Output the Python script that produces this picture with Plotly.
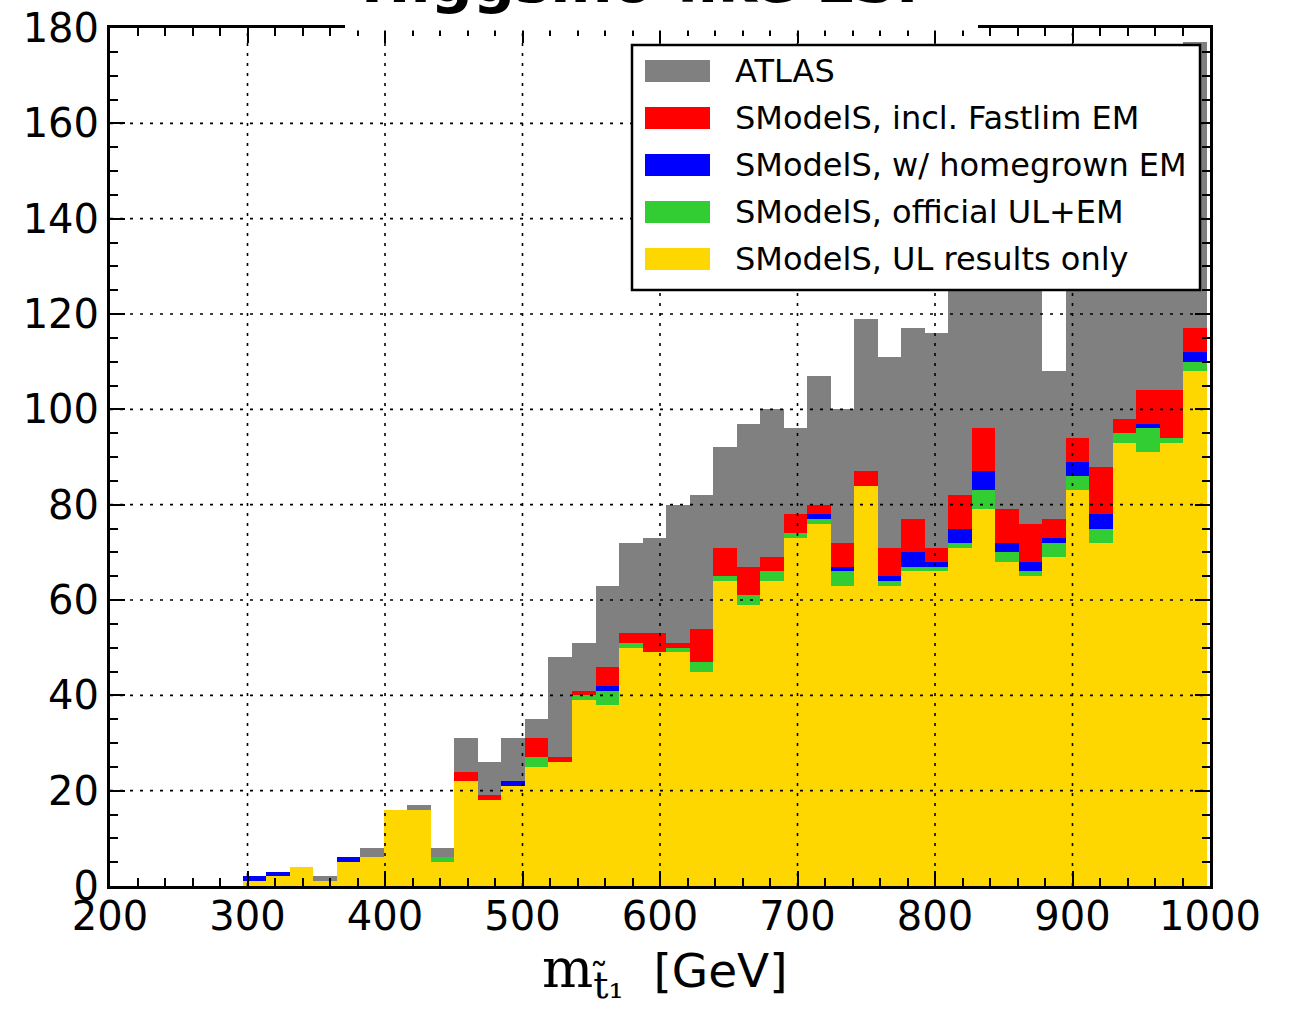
import numpy as np
import plotly.graph_objects as go

# Stop-mass bins (GeV): first lower edge and common bin width
bin_start = 296.6
bin_width = 17.1
n_bins = 41
bin_centers = bin_start + bin_width * (np.arange(n_bins) + 0.5)

# Number of excluded points per bin
atlas = [0, 0, 3, 2, 5, 8, 16, 17, 8, 31,
         26, 31, 35, 48, 51, 63, 72, 73, 80, 82,
         92, 97, 100, 96, 107, 100, 119, 111, 117, 116,
         128, 134, 130, 138, 108, 142, 150, 155, 160, 168,
         177]
fastlim_em = [2, 3, 4, 1, 6, 6, 16, 16, 6, 24,
              19, 22, 31, 27, 41, 46, 53, 53, 51, 54,
              71, 67, 69, 78, 80, 72, 87, 71, 77, 71,
              82, 96, 79, 76, 77, 94, 88, 98, 104, 104,
              117]
homegrown_em = [2, 3, 4, 1, 6, 6, 16, 16, 6, 22,
                18, 22, 27, 26, 40, 42, 51, 49, 50, 47,
                65, 61, 66, 74, 78, 67, 84, 65, 70, 68,
                75, 87, 72, 68, 73, 89, 78, 95, 97, 94,
                112]
official_ul_em = [1, 2, 4, 1, 5, 6, 16, 16, 6, 22,
                  18, 21, 27, 26, 40, 41, 51, 49, 50, 47,
                  65, 61, 66, 74, 77, 66, 84, 64, 67, 67,
                  72, 83, 70, 66, 72, 86, 75, 95, 96, 94,
                  110]
ul_only = [1, 2, 4, 1, 5, 6, 16, 16, 5, 22,
           18, 21, 25, 26, 39, 38, 50, 49, 49, 45,
           64, 59, 64, 73, 76, 63, 84, 63, 66, 66,
           71, 79, 68, 65, 69, 83, 72, 93, 91, 93,
           108]

series_names = ["ATLAS",
                "SModelS, incl. Fastlim EM",
                "SModelS, w/ homegrown EM",
                "SModelS, official UL+EM",
                "SModelS, UL results only"]
series_values = [atlas, fastlim_em, homegrown_em, official_ul_em, ul_only]
series_colors = ["#808080", "#ff0000", "#0000ff", "#32cd32", "#ffd700"]

x_ticks = [200, 300, 400, 500, 600, 700, 800, 900, 1000]
y_ticks = [0, 20, 40, 60, 80, 100, 120, 140, 160, 180]

FONT = "DejaVu Sans"

fig = go.Figure()
for name, vals, col in zip(series_names, series_values, series_colors):
    fig.add_trace(go.Bar(
        x=bin_centers, y=vals, width=bin_width, name=name,
        marker=dict(color=col, line=dict(width=0)),
        showlegend=False,
    ))

# dotted grid drawn on top of the histograms
shapes = []
grid = dict(color="black", width=1.6, dash="3px,7px")
for v in x_ticks[1:-1]:
    shapes.append(dict(type="line", xref="x", yref="paper", x0=v, x1=v,
                       y0=0, y1=1, line=grid, layer="above"))
for v in y_ticks[1:-1]:
    shapes.append(dict(type="line", xref="paper", yref="y", x0=0, x1=1,
                       y0=v, y1=v, line=grid, layer="above"))

# pixel -> paper helpers for the plot area
W, H, L, T = 1100.0, 858.0, 110.0, 28.0
def px(xp):
    return (xp - L) / W
def py(yp):
    return (T + H - yp) / H

# white backing behind the title, hiding the top frame under it
shapes.append(dict(type="rect", xref="paper", yref="paper",
                   x0=px(345), x1=px(978), y0=py(30.5), y1=py(-5),
                   fillcolor="white", line=dict(width=0), layer="above"))

# hand-built legend box
shapes.append(dict(type="rect", xref="paper", yref="paper",
                   x0=px(632), x1=px(1200), y0=py(290), y1=py(45),
                   fillcolor="white", line=dict(color="black", width=2.5),
                   layer="above"))
annotations = []
row_y = [71, 118, 165, 212, 259]
for name, col, ry in zip(series_names, series_colors, row_y):
    shapes.append(dict(type="rect", xref="paper", yref="paper",
                       x0=px(645), x1=px(710), y0=py(ry + 11), y1=py(ry - 11),
                       fillcolor=col, line=dict(width=0), layer="above"))
    annotations.append(dict(xref="paper", yref="paper", x=px(733), y=py(ry),
                            xanchor="left", yanchor="middle", showarrow=False,
                            text=name, font=dict(family=FONT, size=32, color="black")))

# x-axis label
annotations.append(dict(
    xref="paper", yref="paper", x=px(665), y=py(972),
    xanchor="center", yanchor="middle", showarrow=False,
    text="<span style='font-family:DejaVu Serif;font-size:54px'>m<sub>t\u0303\u2081</sub></span>  [GeV]",
    font=dict(family=FONT, size=47, color="black")))

# title, largely above the top edge of the page
annotations.append(dict(
    xref="paper", yref="paper", x=px(650), y=py(18),
    xanchor="center", yanchor="bottom", showarrow=False,
    text="<b>Higgsino-like LSP</b>",
    font=dict(family=FONT, size=59, color="black")))

axis_common = dict(
    ticks="inside", ticklen=15, tickwidth=2, tickcolor="black",
    showline=True, linewidth=3, linecolor="black", mirror="allticks",
    showgrid=False, zeroline=False, automargin=False,
    tickfont=dict(family=FONT, size=40, color="black"),
)

fig.update_layout(
    width=1291, height=1011,
    margin=dict(l=110, r=81, t=28, b=125, autoexpand=False),
    paper_bgcolor="white", plot_bgcolor="white",
    barmode="overlay", bargap=0,
    xaxis=dict(range=[200, 1000], tickvals=x_ticks, ticklabelstandoff=-7,
               minor=dict(dtick=20, ticks="inside", ticklen=8, tickwidth=1.5,
                          tickcolor="black", showgrid=False),
               **axis_common),
    yaxis=dict(range=[0, 180], tickvals=y_ticks,
               minor=dict(dtick=5, ticks="inside", ticklen=8, tickwidth=1.5,
                          tickcolor="black", showgrid=False),
               **axis_common),
    shapes=shapes,
    annotations=annotations,
)

fig.write_html("out.html")
